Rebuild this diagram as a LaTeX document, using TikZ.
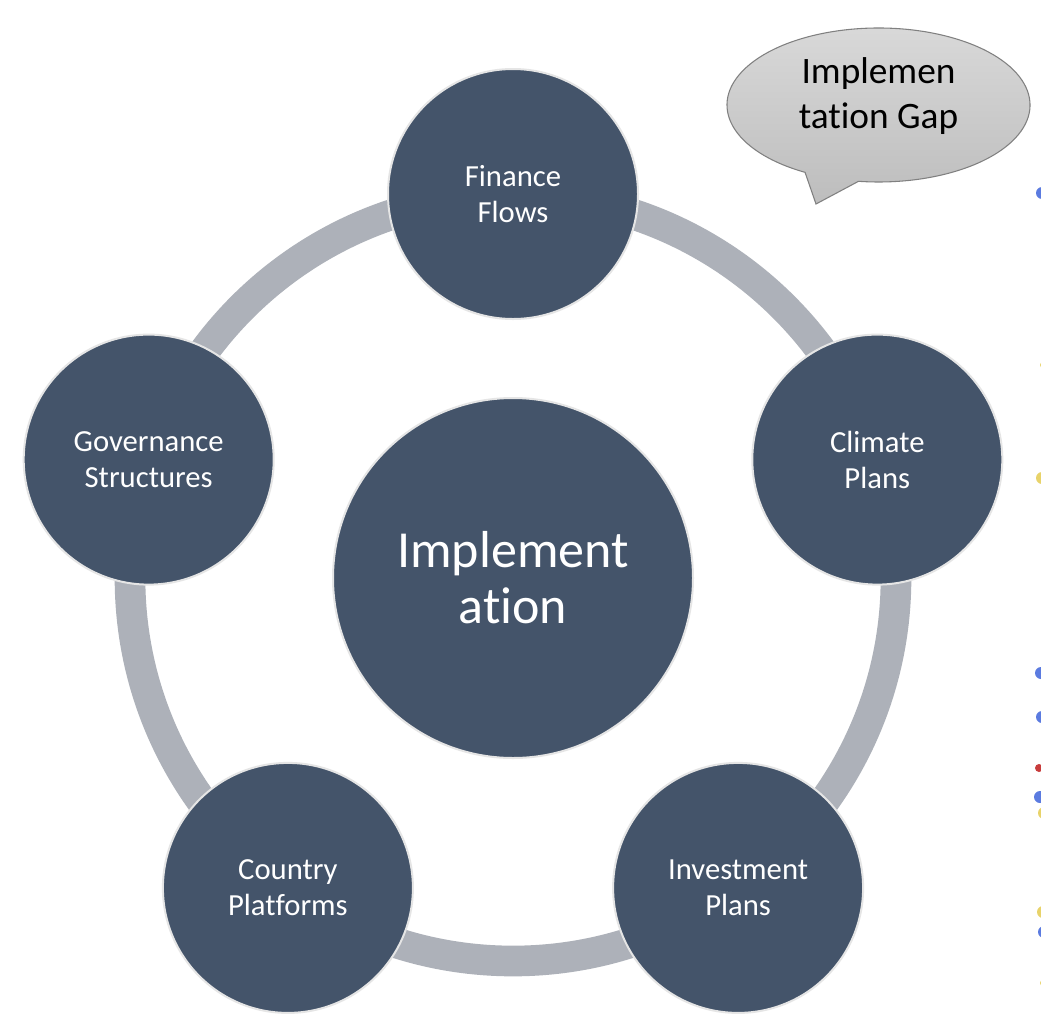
\documentclass[tikz,border=0pt]{standalone}
\usepackage{fontspec}
\setmainfont{Carlito}[Ligatures={NoCommon,NoContextual}]
\definecolor{nodeblue}{HTML}{44546A}
\definecolor{ringgray}{HTML}{ADB1B9}
\definecolor{calltop}{HTML}{DADADA}
\definecolor{callbot}{HTML}{BDBDBD}
\definecolor{dotblue}{HTML}{5B7BE0}
\definecolor{dotyellow}{HTML}{E8D36A}
\definecolor{dotred}{HTML}{C83C3C}
\begin{document}
\begin{tikzpicture}[x=0.75pt,y=-0.75pt,
  outer/.style={circle, fill=nodeblue, draw=black!10, line width=1.5pt,
    minimum size=187.5pt, inner sep=0pt, text=white, align=center,
    font=\fontsize{23}{27}\selectfont},
  hub/.style={outer, minimum size=270pt, font=\fontsize{39}{42}\selectfont},
  ring/.style={draw=ringgray, line width=23pt},
  callout/.style={draw=black!50, line width=0.8pt, top color=calltop, bottom color=callbot},
  calltext/.style={align=center, text=black, font=\fontsize{28}{34}\selectfont},
  edgedot/.style={fill=#1, draw=none}]
\useasboundingbox (0,0) rectangle (1041,1014);
\clip (0,0) rectangle (1041,1014);
\fill[white] (0,0) rectangle (1041,1014);

% ring
\coordinate (c) at (513,578);
\draw[ring] (c) circle[radius=383];

% nodes
\node[hub] (hub) at (c) {Implement\\ation};
\node[outer] (fin) at (513,194) {Finance\\Flows};
\node[outer] (cli) at (877.3,459.6) {Climate\\Plans};
\node[outer] (inv) at (738.1,887.9) {Investment\\Plans};
\node[outer] (cou) at (287.9,887.9) {Country\\Platforms};
\node[outer] (gov) at (148.7,459.6) {Governance\\Structures};

% callout
\path (878.5,105) ++(119:151.5 and 77) coordinate (cl);
\coordinate (tip) at (816,204);
\draw[callout] (cl) arc[start angle=119, end angle=457.6, x radius=151.5, y radius=77] -- (tip) -- cycle;
\node[calltext] (gap) at (878.5,96) {Implemen\\tation Gap};

% clipped fragments at right edge
\fill[edgedot=dotblue] (1042,193) circle[radius=6];
\fill[edgedot=dotyellow] (1043,365) circle[radius=3];
\fill[edgedot=dotyellow] (1042,478) circle[radius=6];
\fill[edgedot=dotblue] (1041,673) circle[radius=6];
\fill[edgedot=dotblue] (1042,717) circle[radius=6];
\fill[edgedot=dotred] (1039,768) circle[radius=4];
\fill[edgedot=dotblue] (1040,797) circle[radius=6];
\fill[edgedot=dotyellow] (1044,813) circle[radius=6];
\fill[edgedot=dotyellow] (1043,912) circle[radius=6];
\fill[edgedot=dotblue] (1044,932) circle[radius=6];
\fill[edgedot=dotyellow] (1043,983) circle[radius=3];
\end{tikzpicture}
\end{document}
